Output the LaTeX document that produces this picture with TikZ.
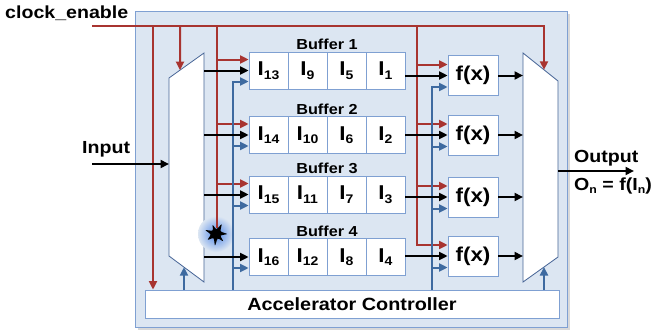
\documentclass[tikz,border=0pt]{standalone}
\usepackage{fontspec}
\setmainfont{Liberation Sans}[FakeStretch=1.12]
\usetikzlibrary{arrows.meta,calc}
\definecolor{cred}{RGB}{168,52,48}
\definecolor{cblue}{RGB}{62,106,160}
\definecolor{glow}{RGB}{80,135,230}
\definecolor{bord}{RGB}{127,160,210}
\definecolor{muxbord}{RGB}{70,100,150}
\definecolor{bgfill}{RGB}{220,230,242}
\newcommand{\Isb}[1]{I\raisebox{-3.5pt}{\fontsize{12.5}{13}\selectfont #1}}
\newcommand{\smsub}[1]{\raisebox{-3pt}{\fontsize{11}{12}\selectfont #1}}
\begin{document}
\begin{tikzpicture}[x=1pt,y=-1pt,
  tip/.style={-{Triangle[length=8.5pt,width=8pt]}},
  redln/.style={draw=cred,line width=2pt},
  blueln/.style={draw=cblue,line width=2pt},
  blkln/.style={draw=black,line width=2pt},
  cellbox/.style={draw=bord,fill=white,line width=0.8pt,minimum width=39pt,minimum height=37pt,inner sep=0pt,font=\bfseries\fontsize{20}{22}\selectfont},
  fxbox/.style={draw=bord,fill=white,line width=0.8pt,minimum width=50pt,minimum height=40pt,inner sep=0pt,font=\bfseries\fontsize{20}{22}\selectfont},
  lbl/.style={font=\bfseries\fontsize{14.5}{16}\selectfont,inner sep=0pt},
  biglbl/.style={font=\bfseries\fontsize{17.5}{19}\selectfont,inner sep=0pt,anchor=base west},
  muxshape/.style={draw=muxbord,fill=white,line width=0.8pt},
]
\useasboundingbox (0,0) rectangle (651,330);
% frame
\fill[black!15] (137.5,13.5) rectangle (569.5,329.5);
\node[draw=bord,fill=bgfill,line width=1pt,minimum width=432pt,minimum height=316pt,inner sep=0pt] (frame) at (351,169) {};
% controller
\node[draw=bord,fill=white,line width=0.8pt,minimum width=414pt,minimum height=28pt,inner sep=0pt,font=\bfseries\fontsize{17.7}{19}\selectfont] (ctrl) at (352,304) {Accelerator Controller};
% muxes
\draw[muxshape] (169,78) coordinate (lmTL) -- (204,53) coordinate (lmTR) -- (204,282) coordinate (lmBR) -- (169,256) coordinate (lmBL) -- cycle;
\draw[muxshape] (523,53) coordinate (rmTL) -- (558,81) coordinate (rmTR) -- (558,257) coordinate (rmBR) -- (523,282) coordinate (rmBL) -- cycle;
% buffers
\foreach \b/\yc in {1/70.5,2/135,3/194.5,4/257} {
  \node[lbl] (L\b) at (327,\yc-26) {Buffer \b};
  \foreach \j in {1,...,4} {
    \pgfmathtruncatemacro{\n}{\b+4*(4-\j)}
    \node[cellbox] (B\b-\j) at ({268.5+39*(\j-1)},\yc) {\Isb{\n}};
  }
}
% f(x)
\foreach \b/\yf in {1/75.5,2/135,3/197,4/256} {
  \node[fxbox] (F\b) at (473,\yf) {f(x)};
}
% labels
\node[biglbl] (clklbl) at (5,18) {clock\_enable};
\node[biglbl] (inlbl) at (82,153) {Input};
\node[biglbl] (outlbl) at (574,162) {Output};
\node[biglbl] (onlbl) at (574,190) {O\smsub{n} = f(I\smsub{n})};
% coordinates
\coordinate (clk) at (92,26);
\coordinate (rA) at (153,26);
\coordinate (rB) at (180,26);
\coordinate (rC) at (217,26);
\coordinate (rD) at (417,26);
\coordinate (bL) at (233,0);
\coordinate (bR) at (432,0);
\coordinate (fault) at (216,234);
\coordinate (rmIn) at ($(rmTL)!0.6!(rmTR)$);
\coordinate (lmIn) at ($(lmTL)!0.3143!(lmTR)$);
\coordinate (lmCtl) at ($(lmBL)!0.4286!(lmBR)$);
\coordinate (rmCtl) at ($(rmBL)!0.6!(rmBR)$);
\coordinate (inS) at (92,164);
\coordinate (outS) at (558,171);
\coordinate (outE) at (634,171);
% clock lines
\draw[redln,tip] (clk) -| (rmIn);
\draw[redln,tip] (rA) -- (rA |- ctrl.north);
\draw[redln,tip] (rB) -- (lmIn);
% fault glow
\shade[inner color=glow,outer color=bgfill] (fault) circle (18);
\draw[redln] (rC) -- ($(fault)+(1,-6)$);
\foreach \b in {1,2,3} {
  \coordinate (Rt\b) at ($(B\b-1.west)+(0,-11)$);
  \draw[redln,tip] (Rt\b -| rC) -- (Rt\b);
}
% left blue
\foreach \b in {1,2,3,4} {
  \coordinate (Bt\b) at ($(B\b-1.west)+(0,11)$);
}
\draw[blueln,tip] (bL |- ctrl.north) |- (Bt1);
\foreach \b in {2,3,4} {
  \draw[blueln,tip] (Bt\b -| bL) -- (Bt\b);
}
\draw[blueln,tip] (lmCtl |- ctrl.north) -- (lmCtl);
% mux outputs
\foreach \b in {1,2,3,4} {
  \draw[blkln,tip] (B\b-1.west -| lmTR) -- (B\b-1.west);
}
% splat
\begin{scope}[shift={(fault)}]
\fill[black] plot[smooth cycle,tension=0.5] coordinates {(0:11) (20:5) (45:10) (70:5) (95:11.5) (120:5) (145:10) (175:5.5) (200:11) (225:5) (250:9.5) (275:5) (300:11) (330:5.5)};
\end{scope}
% right red
\foreach \b in {1,2,3,4} {
  \coordinate (FR\b) at ($(F\b.west)+(0,-11)$);
  \coordinate (FB\b) at ($(F\b.west)+(0,11.5)$);
}
\draw[redln,tip] (rD) |- (FR4);
\foreach \b in {1,2,3} {
  \draw[redln,tip] (FR\b -| rD) -- (FR\b);
}
% right blue
\draw[blueln,tip] (bR |- ctrl.north) |- (FB1);
\foreach \b in {2,3,4} {
  \draw[blueln,tip] (FB\b -| bR) -- (FB\b);
}
\draw[blueln,tip] (rmCtl |- ctrl.north) -- (rmCtl);
% buffer to f, f to mux
\foreach \b in {1,2,3,4} {
  \draw[blkln,tip] (F\b.west -| B\b-4.east) -- (F\b.west);
  \draw[blkln,tip] (F\b.east) -- (F\b.east -| rmTL);
}
% input / output
\draw[blkln,tip] (inS) -- (inS -| lmTL);
\draw[blkln,tip] (outS) -- (outE);
\end{tikzpicture}
\end{document}
